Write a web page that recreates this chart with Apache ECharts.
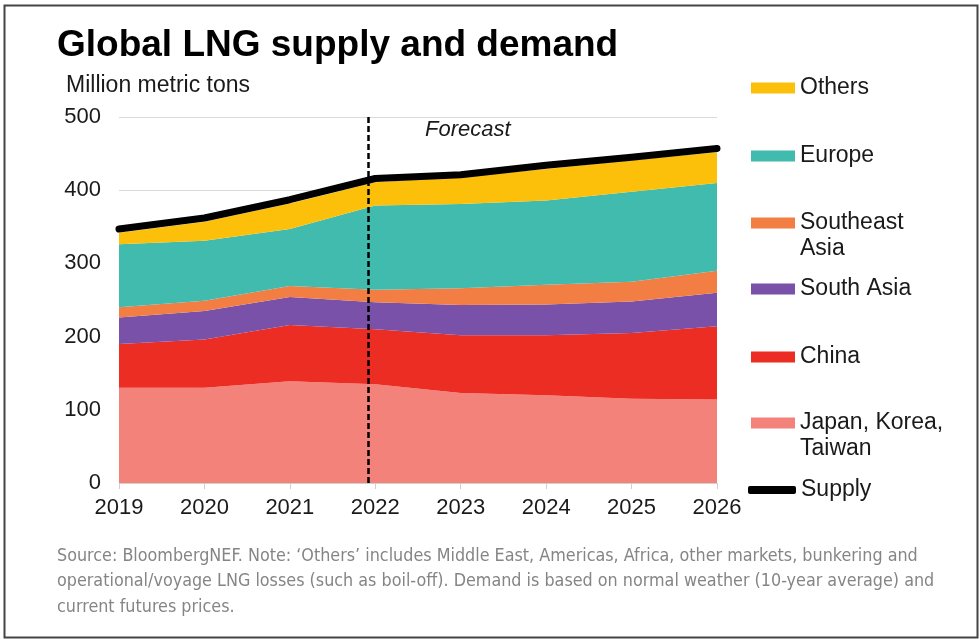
<!DOCTYPE html>
<html>
<head>
<meta charset="utf-8">
<script src="https://cdn.jsdelivr.net/npm/echarts@6/dist/echarts.min.js"></script>
<style>
html,body{margin:0;padding:0;background:#fff;}
#chart{width:980px;height:639px;}
</style>
</head>
<body>
<div id="chart"></div>
<script>
// ---- data (million metric tons, stacked increments) ----
const years = ['2019','2020','2021','2022','2023','2024','2025','2026'];
const japanKoreaTaiwan = [130, 130, 139, 135, 123, 120, 115, 114];
const china            = [60, 66, 77, 75, 79, 82, 90, 100];
const southAsia        = [36, 39, 38, 37, 41, 42, 43, 46];
const southeastAsia    = [14, 14, 15, 17, 23, 27, 27, 30];
const europe           = [86, 82, 78, 115, 115, 115, 123, 120];
const others           = [16, 26, 35, 32, 37, 43, 43, 42];
const supply           = [347, 362, 387, 416, 421, 434, 445, 457];
const yTicks = { min: 0, max: 500, interval: 100 };
const forecastStart = 2.915; // position (in years from 2019) where the forecast begins

const FONT = '"Liberation Sans", Arial, Helvetica, sans-serif';
const NOTE_FONT = '"Liberation Sans Narrow", "Arial Narrow", "DejaVu Sans Condensed", sans-serif';

const areaSeries = [
  { name: 'Japan, Korea, Taiwan', data: japanKoreaTaiwan, color: '#F3837A' },
  { name: 'China', data: china, color: '#EC2D24' },
  { name: 'South Asia', data: southAsia, color: '#7951A8' },
  { name: 'Southeast Asia', data: southeastAsia, color: '#F37E43' },
  { name: 'Europe', data: europe, color: '#41BBAD' },
  { name: 'Others', data: others, color: '#FDC00A' }
];

const series = areaSeries.map(s => ({
  name: s.name,
  type: 'line',
  stack: 'demand',
  data: s.data,
  color: s.color,
  itemStyle: { color: s.color },
  symbol: 'none',
  lineStyle: { width: 0, opacity: 0 },
  areaStyle: { color: s.color, opacity: 1 },
  silent: true,
  z: 2
}));

series.push({
  name: 'Supply',
  type: 'line',
  data: supply,
  color: '#000',
  itemStyle: { color: '#000' },
  symbol: 'none',
  lineStyle: { width: 7, color: '#000', cap: 'round', join: 'round' },
  silent: true,
  z: 4
});

series.push({
  name: 'forecast',
  type: 'line',
  xAxisIndex: 1,
  data: [],
  silent: true,
  markLine: {
    silent: true,
    symbol: ['none', 'none'],
    label: { show: false },
    lineStyle: { type: [6, 3], color: '#000', width: 2.5 },
    data: [{ xAxis: forecastStart }]
  },
  z: 5
});

const LEG_FS = 23;
function singleLegend(name, centerY, opts) {
  opts = opts || {};
  const lh = 26;
  return {
    left: opts.left || 751,
    top: centerY - lh / 2,
    padding: 0,
    orient: 'vertical',
    itemWidth: opts.w || 44,
    itemHeight: opts.h || 11,
    itemGap: 0,
    selectedMode: false,
    icon: opts.icon || 'rect',
    data: [{ name: name, icon: opts.icon || 'rect' }],
    formatter: opts.label ? () => opts.label : undefined,
    textStyle: { fontFamily: FONT, fontSize: LEG_FS, color: '#1a1a1a', lineHeight: lh }
  };
}

function legendSecondLine(text, y) {
  return { type: 'text', x: 800, y: y, silent: true,
    style: { text: text, fontFamily: FONT, fontSize: LEG_FS, fill: '#1a1a1a', verticalAlign: 'middle' } };
}

function noteLine(text, y) {
  return { type: 'text', x: 57, y: y, silent: true,
    style: { text: text, fontFamily: NOTE_FONT, fontSize: 17.8, fill: '#858585', verticalAlign: 'middle' } };
}

const option = {
  animation: false,
  backgroundColor: '#fff',
  grid: { left: 119, top: 117, width: 598, height: 366, containLabel: false },
  xAxis: [{
    type: 'category',
    data: years,
    boundaryGap: false,
    axisLine: { show: true, lineStyle: { color: '#d0d0d0', width: 1 } },
    axisTick: { show: true, length: 6, lineStyle: { color: '#d0d0d0' } },
    axisLabel: { fontFamily: FONT, fontSize: 22, color: '#1a1a1a', margin: 14 },
    splitLine: { show: false }
  }, {
    type: 'value',
    min: 0, max: 7,
    show: false,
    gridIndex: 0
  }],
  yAxis: {
    type: 'value',
    min: yTicks.min, max: yTicks.max, interval: yTicks.interval,
    axisLine: { show: false },
    axisTick: { show: false },
    axisLabel: { fontFamily: FONT, fontSize: 22, color: '#1a1a1a', margin: 18 },
    splitLine: { show: true, lineStyle: { color: '#d9d9d9', width: 1 } }
  },
  legend: [
    singleLegend('Others', 88),
    singleLegend('Europe', 156),
    singleLegend('Southeast Asia', 223, { label: 'Southeast' }),
    singleLegend('South Asia', 289),
    singleLegend('China', 357),
    singleLegend('Japan, Korea, Taiwan', 423, { label: 'Japan, Korea,' }),
    singleLegend('Supply', 490, { icon: 'roundRect', w: 48, h: 8, left: 748 })
  ],
  graphic: [
    { type: 'rect', left: 2, top: 3, silent: true,
      shape: { width: 973, height: 632 },
      style: { fill: 'none', stroke: '#444', lineWidth: 2 } },
    { type: 'text', x: 57, y: 46, silent: true,
      style: { text: 'Global LNG supply and demand', fontFamily: FONT, fontWeight: 'bold', fontSize: 37, fill: '#000', verticalAlign: 'middle' } },
    { type: 'text', x: 66, y: 86, silent: true,
      style: { text: 'Million metric tons', fontFamily: FONT, fontSize: 23, fill: '#1a1a1a', verticalAlign: 'middle' } },
    { type: 'text', x: 425, y: 130, silent: true, z: 10,
      style: { text: 'Forecast', fontFamily: FONT, fontStyle: 'italic', fontSize: 22, fill: '#1a1a1a', verticalAlign: 'middle' } },
    legendSecondLine('Asia', 249),
    legendSecondLine('Taiwan', 449),
    noteLine('Source: BloombergNEF. Note: \u2018Others\u2019 includes Middle East, Americas, Africa, other markets, bunkering and', 556),
    noteLine('operational/voyage LNG losses (such as boil-off). Demand is based on normal weather (10-year average) and', 581),
    noteLine('current futures prices.', 607)
  ],
  series: series
};

const chart = echarts.init(document.getElementById('chart'), null, { renderer: 'canvas' });
chart.setOption(option);
</script>
</body>
</html>
